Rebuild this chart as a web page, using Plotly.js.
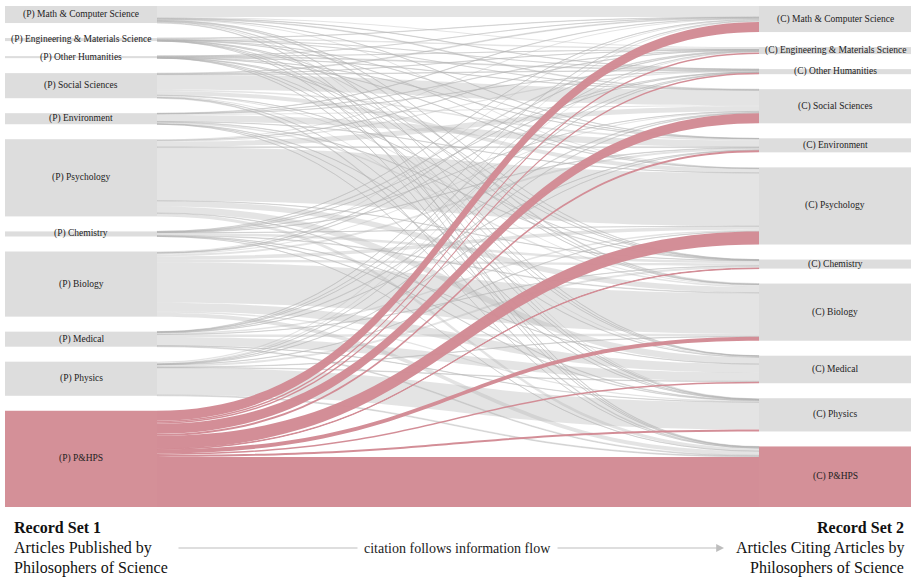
<!DOCTYPE html>
<html>
<head>
<meta charset="utf-8">
<script src="https://cdn.plot.ly/plotly-3.0.1.min.js"></script>
<style>html,body{margin:0;padding:0;background:#fff;}#chart{width:911px;height:578px;}</style>
</head>
<body>
<div id="chart"></div>
<script>
// ---- data ----
var fields = ["Math & Computer Science","Engineering & Materials Science","Other Humanities","Social Sciences","Environment","Psychology","Chemistry","Biology","Medical","Physics","P&HPS"];
var sourceLabels = fields.map(function(f){return "(P) " + f;});
var targetLabels = fields.map(function(f){return "(C) " + f;});
// flows from each (P) field to (C): Math, Eng, OthHum, SocSci, Env, Psych, Chem, Bio, Med, Phys, P&HPS
var fromMathCS   = [11, 1, 0.3, 0.7, 0.2, 1, 0.2, 0.8, 0.3, 1, 0.5];
var fromEngMat   = [0.3, 1.5, 0.05, 0.1, 0.2, 0.1, 0.3, 0.1, 0.1, 0.2, 0.1];
var fromOtherHum = [0.1, 0.02, 0.8, 0.3, 0.05, 0.3, 0.02, 0.1, 0.05, 0.05, 0.25];
var fromSocSci   = [0.8, 0.2, 0.5, 15, 1.5, 4, 0.1, 1, 1, 0.2, 0.7];
var fromEnv      = [0.3, 0.3, 0.1, 1, 6.5, 0.3, 0.4, 1.5, 0.3, 0.2, 0.1];
var fromPsych    = [1, 0.3, 1.2, 5, 0.8, 53, 0.2, 5.5, 6.5, 0.5, 3];
var fromChem     = [0.1, 0.6, 0.02, 0.05, 0.4, 0.1, 2.5, 0.6, 0.2, 0.4, 0.1];
var fromBio      = [1, 0.4, 0.3, 1, 2, 3.5, 2.5, 40.5, 8.5, 1.3, 4];
var fromMedical  = [0.3, 0.1, 0.1, 0.5, 0.2, 1.5, 0.2, 2.5, 8.5, 0.3, 0.8];
var fromPhysics  = [1.1, 1.1, 0.2, 0.4, 0.15, 0.2, 2.1, 0.4, 0.5, 27, 0.85];
var fromPHPS     = [10, 1.5, 1.5, 10, 2, 13, 0.5, 4, 1.5, 2, 50];
var flowRows = [fromMathCS, fromEngMat, fromOtherHum, fromSocSci, fromEnv, fromPsych, fromChem, fromBio, fromMedical, fromPhysics, fromPHPS];

// ---- styles / layout constants ----
var M = {l:5, r:0, t:6, b:71};
var W = 911 - M.l - M.r, H = 578 - M.t - M.b;
var THICK = 152, PAD = 15;
var GREY_NODE = "rgb(221,221,221)", RED_NODE = "rgb(212,144,152)";
var GREY_LINK = "rgba(180,180,180,0.36)", RED_LINK = "rgba(210,138,148,0.97)";
var FONT = "Liberation Serif, Times New Roman, serif";
var HL = fields.indexOf("P&HPS");
var n = fields.length;

// build links
var src = [], tgt = [], val = [], lcol = [];
flowRows.forEach(function(row, i){
  row.forEach(function(v, j){
    src.push(i); tgt.push(n + j); val.push(v);
    lcol.push(i === HL ? RED_LINK : GREY_LINK);
  });
});
var outTot = flowRows.map(function(r){return r.reduce(function(a,b){return a+b;},0);});
var inTot = fields.map(function(_, j){return flowRows.reduce(function(a,r){return a+r[j];},0);});
var total = outTot.reduce(function(a,b){return a+b;},0);
var ky = (H - (n-1)*PAD) / total;
function centers(vals){
  var cum = 0, out = [];
  vals.forEach(function(v, i){ out.push(((cum + v/2)*ky + i*PAD)/H); cum += v; });
  return out;
}
var yL = centers(outTot), yR = centers(inTot);
var xL = (THICK/2)/W, xR = 1 - (THICK/2)/W;

var nodeX = [], nodeY = [], nodeCol = [];
for (var i=0;i<n;i++){ nodeX.push(xL); nodeY.push(yL[i]); nodeCol.push(i===HL?RED_NODE:GREY_NODE); }
for (var j=0;j<n;j++){ nodeX.push(xR); nodeY.push(yR[j]); nodeCol.push(j===HL?RED_NODE:GREY_NODE); }

var trace = {
  type: "sankey",
  arrangement: "fixed",
  node: {
    label: nodeX.map(function(){return "";}),
    x: nodeX, y: nodeY,
    color: nodeCol,
    thickness: THICK, pad: PAD,
    line: {width: 0, color: "rgba(0,0,0,0)"},
    hoverinfo: "none"
  },
  link: {source: src, target: tgt, value: val, color: lcol, hoverinfo: "none"}
};

var annotations = [];
sourceLabels.concat(targetLabels).forEach(function(lbl, k){
  annotations.push({
    xref:"paper", yref:"paper", x: nodeX[k], y: 1 - nodeY[k],
    text: lbl, showarrow:false, xanchor:"center", yanchor:"middle",
    font:{family:FONT, size:9.5, color:"#222"}
  });
});
function py(pix){ return (578 - M.b - pix)/H; }
function px(pix){ return (pix - M.l)/W; }
var BIG = {family:FONT, size:16, color:"#111"};
annotations.push(
  {xref:"paper",yref:"paper",x:px(12),y:py(527),xanchor:"left",yanchor:"middle",showarrow:false,text:"<b>Record Set 1</b>",font:BIG},
  {xref:"paper",yref:"paper",x:px(12),y:py(548),xanchor:"left",yanchor:"middle",showarrow:false,text:"Articles Published by",font:BIG},
  {xref:"paper",yref:"paper",x:px(12),y:py(568),xanchor:"left",yanchor:"middle",showarrow:false,text:"Philosophers of Science",font:BIG},
  {xref:"paper",yref:"paper",x:px(906),y:py(527),xanchor:"right",yanchor:"middle",showarrow:false,text:"<b>Record Set 2</b>",font:BIG},
  {xref:"paper",yref:"paper",x:px(906),y:py(548),xanchor:"right",yanchor:"middle",showarrow:false,text:"Articles Citing Articles by",font:BIG},
  {xref:"paper",yref:"paper",x:px(906),y:py(568),xanchor:"right",yanchor:"middle",showarrow:false,text:"Philosophers of Science",font:BIG},
  {xref:"paper",yref:"paper",x:px(724),y:py(548),text:"",showarrow:true,ax:-547,ay:0,arrowhead:2,arrowsize:1.3,arrowwidth:1.2,arrowcolor:"#bdbdbd"},
  {xref:"paper",yref:"paper",x:px(457),y:py(548),xanchor:"center",yanchor:"middle",showarrow:false,text:"citation follows information flow",bgcolor:"#ffffff",borderpad:6,font:{family:FONT,size:14,color:"#222"}}
);

var layout = {
  width: 911, height: 578,
  margin: M,
  paper_bgcolor: "#ffffff",
  font: {family: FONT},
  showlegend: false,
  annotations: annotations
};
Plotly.newPlot("chart", [trace], layout, {displayModeBar:false, staticPlot:true});
</script>
</body>
</html>
